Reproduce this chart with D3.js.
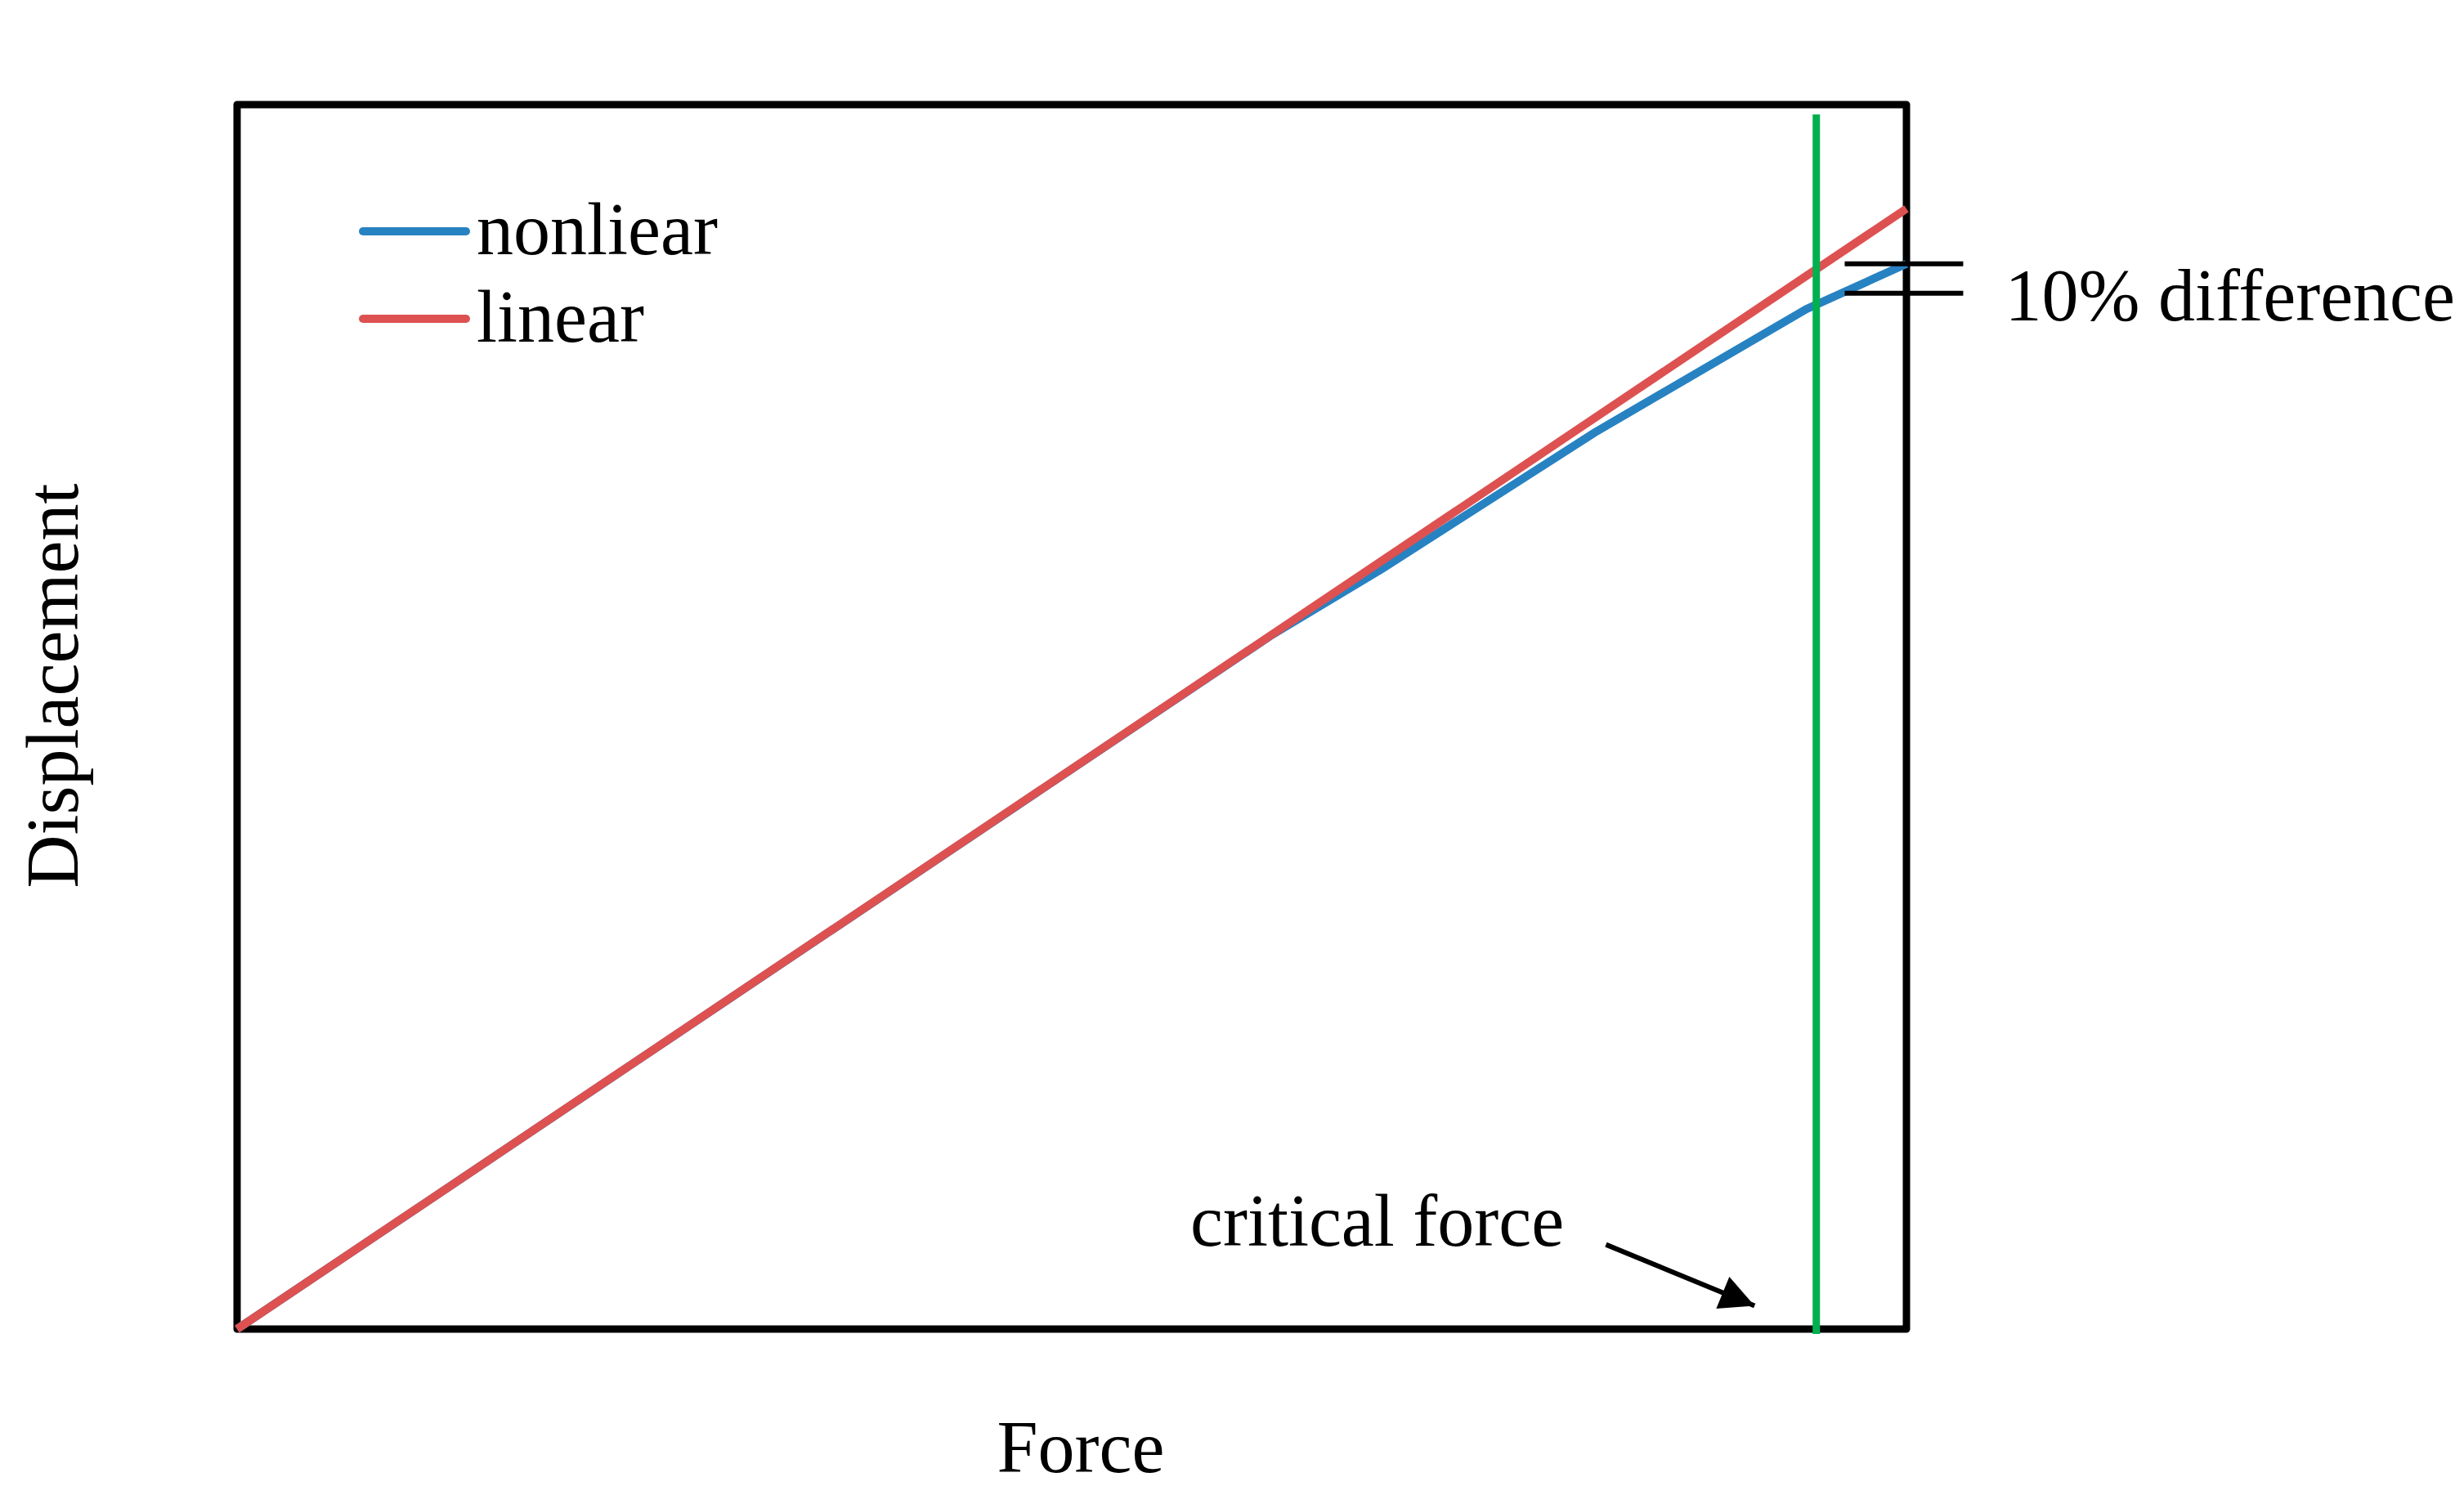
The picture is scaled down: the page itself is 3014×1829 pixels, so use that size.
<!DOCTYPE html>
<html>
<head>
<meta charset="utf-8">
<script src="https://cdn.jsdelivr.net/npm/d3@7"></script>
<style>
  body { margin: 0; background: #fff; }
  text { font-family: "Liberation Serif", "Times New Roman", serif; fill: #000; }
</style>
</head>
<body>
<svg id="chart"></svg>
<script>
// data (force / displacement in arbitrary units, 0..100)
const linearX = [0, 100];
const linearY = [0, 91.5];
const nonlinearX = [0, 62, 68.6, 81.3, 94.0, 100];
const nonlinearY = [0, 56.7, 62.1, 73.2, 83.3, 87.0];
const seriesNames = ['nonliear', 'linear'];
const seriesColors = ['#2782c2', '#dd5151'];
const criticalForce = 94.6;
const diffLevels = [87.0, 84.6];     // the two "10% difference" tick marks
const diffSpan = [96.3, 103.4];
const arrowFrom = [82.0, 6.9];
const arrowTo = [90.9, 1.9];

const W = 3014, H = 1829;
const margin = { top: 128, right: 682, bottom: 203, left: 290 };
const width = W - margin.left - margin.right;
const height = H - margin.top - margin.bottom;

const svg = d3.select('#chart')
  .attr('width', W)
  .attr('height', H);

const g = svg.append('g')
  .attr('transform', `translate(${margin.left},${margin.top})`);

const xScale = d3.scaleLinear().domain([0, 100]).range([0, width]);
const yScale = d3.scaleLinear().domain([0, 100]).range([height, 0]);

const line = d3.line()
  .x(d => xScale(d[0]))
  .y(d => yScale(d[1]));

const linearData = linearX.map((x, i) => [x, linearY[i]]);
const nonlinearData = nonlinearX.map((x, i) => [x, nonlinearY[i]]);

// frame
g.append('rect')
  .attr('x', xScale(0))
  .attr('y', yScale(100))
  .attr('width', xScale(100) - xScale(0))
  .attr('height', yScale(0) - yScale(100))
  .attr('fill', 'none')
  .attr('stroke', '#000')
  .attr('stroke-width', 9)
  .attr('stroke-linejoin', 'round');

// nonlinear then linear on top
g.append('path')
  .datum(nonlinearData)
  .attr('d', line)
  .attr('fill', 'none')
  .attr('stroke', seriesColors[0])
  .attr('stroke-width', 10);

g.append('path')
  .datum(linearData)
  .attr('d', line)
  .attr('fill', 'none')
  .attr('stroke', seriesColors[1])
  .attr('stroke-width', 10);

// critical force line
g.append('line')
  .attr('x1', xScale(criticalForce))
  .attr('x2', xScale(criticalForce))
  .attr('y1', yScale(99.2))
  .attr('y2', yScale(-0.4))
  .attr('stroke', '#00b04f')
  .attr('stroke-width', 9);

// 10% difference marks
g.selectAll('.diff')
  .data(diffLevels)
  .enter()
  .append('line')
  .attr('class', 'diff')
  .attr('x1', xScale(diffSpan[0]))
  .attr('x2', xScale(diffSpan[1]))
  .attr('y1', d => yScale(d))
  .attr('y2', d => yScale(d))
  .attr('stroke', '#000')
  .attr('stroke-width', 6);

g.append('text')
  .attr('x', xScale(105.9))
  .attr('y', yScale(82.4))
  .attr('font-size', 90)
  .text('10% difference');

// arrow to critical force
svg.append('defs').append('marker')
  .attr('id', 'head')
  .attr('viewBox', '0 0 10 10')
  .attr('refX', 10)
  .attr('refY', 5)
  .attr('markerWidth', 8)
  .attr('markerHeight', 7)
  .attr('markerUnits', 'strokeWidth')
  .attr('orient', 'auto')
  .append('path')
  .attr('d', 'M0,0 L10,5 L0,10 Z')
  .attr('fill', '#000');

g.append('line')
  .attr('x1', xScale(arrowFrom[0]))
  .attr('y1', yScale(arrowFrom[1]))
  .attr('x2', xScale(arrowTo[0]))
  .attr('y2', yScale(arrowTo[1]))
  .attr('stroke', '#000')
  .attr('stroke-width', 6)
  .attr('marker-end', 'url(#head)');

g.append('text')
  .attr('x', xScale(57.1))
  .attr('y', yScale(6.8))
  .attr('font-size', 90)
  .text('critical force');

// legend
const legend = g.append('g').attr('transform', 'translate(154,155)');
seriesNames.forEach((name, i) => {
  const row = legend.append('g').attr('transform', `translate(0,${i * 107})`);
  row.append('line')
    .attr('x1', 0).attr('x2', 126)
    .attr('y1', 0).attr('y2', 0)
    .attr('stroke', seriesColors[i])
    .attr('stroke-width', 10)
    .attr('stroke-linecap', 'round');
  row.append('text')
    .attr('x', 139)
    .attr('y', 28)
    .attr('font-size', 90)
    .text(name);
});

// axis titles
svg.append('text')
  .attr('x', 1322)
  .attr('y', 1801)
  .attr('text-anchor', 'middle')
  .attr('font-size', 90)
  .text('Force');

svg.append('text')
  .attr('transform', 'translate(95,839) rotate(-90)')
  .attr('text-anchor', 'middle')
  .attr('font-size', 90)
  .text('Displacement');
</script>
</body>
</html>
